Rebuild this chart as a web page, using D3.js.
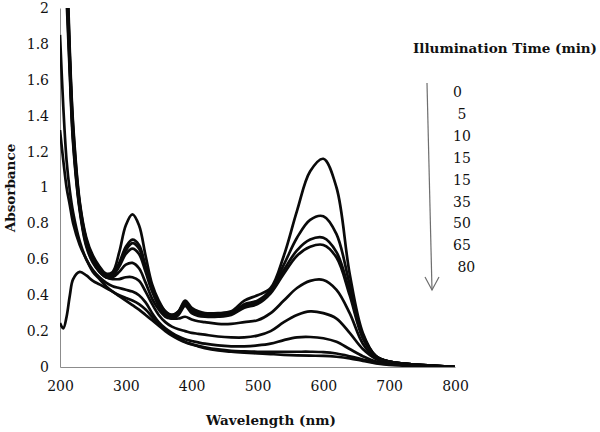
<!DOCTYPE html>
<html>
<head>
<meta charset="utf-8">
<script src="https://cdn.jsdelivr.net/npm/d3@7"></script>
<style>
  body { margin: 0; background: #fff; }
  text { font-family: "DejaVu Serif", serif; fill: #111; }
</style>
</head>
<body>
<svg id="chart" width="600" height="432"></svg>
<script>
// wavelengths (nm) shared by all spectra
const wavelength = [200,205,210,215,220,230,240,250,260,270,280,290,300,310,320,330,340,350,360,370,380,390,400,410,420,440,460,480,500,520,540,560,580,600,620,640,660,680,700,720,750,800]

// illumination times, as printed in the legend
const timeLabels = ["0", " 5", "10", "15", "15", "35", "50", "65", " 80"]

// absorbance for each spectrum
const abs0  = [4.0,3.0,2.3,1.75,1.35,0.92,0.72,0.62,0.56,0.52,0.53,0.64,0.79,0.85,0.79,0.62,0.46,0.37,0.31,0.29,0.31,0.37,0.33,0.31,0.30,0.30,0.31,0.37,0.40,0.44,0.62,0.87,1.09,1.16,1.00,0.52,0.19,0.06,0.03,0.02,0.01,0.0]
const abs5  = [3.8,2.9,2.25,1.72,1.33,0.91,0.71,0.61,0.55,0.51,0.52,0.58,0.67,0.71,0.68,0.56,0.44,0.36,0.31,0.29,0.31,0.36,0.32,0.30,0.29,0.29,0.30,0.35,0.37,0.43,0.57,0.72,0.82,0.84,0.74,0.46,0.18,0.06,0.03,0.02,0.01,0.0]
const abs10 = [3.6,2.8,2.2,1.7,1.3,0.9,0.7,0.6,0.55,0.51,0.52,0.57,0.65,0.69,0.66,0.55,0.43,0.35,0.30,0.28,0.30,0.35,0.31,0.29,0.285,0.285,0.295,0.34,0.36,0.42,0.54,0.65,0.71,0.72,0.64,0.42,0.17,0.06,0.03,0.02,0.01,0.0]
const abs15 = [3.4,2.7,2.15,1.68,1.28,0.89,0.69,0.6,0.54,0.5,0.51,0.56,0.63,0.66,0.63,0.53,0.42,0.34,0.29,0.27,0.29,0.34,0.30,0.285,0.28,0.28,0.29,0.33,0.35,0.41,0.52,0.62,0.67,0.68,0.61,0.40,0.16,0.06,0.03,0.02,0.01,0.0]
const abs15b = [3.2,2.6,2.1,1.65,1.26,0.88,0.68,0.59,0.53,0.5,0.5,0.53,0.57,0.58,0.55,0.47,0.38,0.32,0.28,0.27,0.27,0.28,0.265,0.255,0.25,0.24,0.24,0.25,0.26,0.30,0.37,0.44,0.48,0.485,0.43,0.30,0.13,0.05,0.03,0.02,0.01,0.0]
const abs35 = [3.0,2.5,2.05,1.62,1.24,0.87,0.67,0.58,0.53,0.5,0.49,0.49,0.5,0.50,0.48,0.42,0.35,0.29,0.25,0.225,0.21,0.20,0.19,0.185,0.18,0.17,0.165,0.165,0.175,0.20,0.25,0.29,0.31,0.30,0.27,0.19,0.10,0.045,0.025,0.015,0.01,0.0]
const abs50 = [1.85,1.45,1.15,0.98,0.86,0.70,0.60,0.54,0.50,0.47,0.45,0.44,0.43,0.42,0.40,0.36,0.30,0.25,0.215,0.19,0.17,0.155,0.145,0.137,0.13,0.12,0.115,0.115,0.12,0.13,0.15,0.165,0.167,0.16,0.14,0.10,0.06,0.03,0.02,0.012,0.008,0.0]
const abs65 = [1.32,1.15,1.0,0.9,0.8,0.68,0.6,0.53,0.49,0.45,0.42,0.40,0.385,0.37,0.35,0.32,0.28,0.24,0.21,0.18,0.16,0.14,0.128,0.118,0.11,0.098,0.09,0.087,0.085,0.085,0.085,0.085,0.085,0.083,0.075,0.06,0.042,0.024,0.014,0.01,0.005,0.0]
const abs80 = [0.245,0.215,0.28,0.40,0.49,0.53,0.51,0.48,0.46,0.44,0.42,0.395,0.37,0.345,0.32,0.29,0.26,0.23,0.2,0.175,0.155,0.138,0.125,0.115,0.105,0.092,0.085,0.08,0.076,0.072,0.068,0.065,0.063,0.062,0.057,0.048,0.034,0.02,0.012,0.008,0.004,0.0]

const spectra = [abs0, abs5, abs10, abs15, abs15b, abs35, abs50, abs65, abs80]

const xTicks = [200, 300, 400, 500, 600, 700, 800]
const yTicks = [0, 0.2, 0.4, 0.6, 0.8, 1, 1.2, 1.4, 1.6, 1.8, 2]

let svg = d3.select("#chart")

let x = d3.scaleLinear().domain([200, 800]).range([60, 455])
let y = d3.scaleLinear().domain([0, 2]).range([367, 8])

svg.append("clipPath").attr("id", "plot")
   .append("rect")
   .attr("x", x(200)).attr("y", y(2))
   .attr("width", x(800) - x(200)).attr("height", y(0) - y(2))

// axes, Excel style: grey line, no tick marks
svg.append("g")
   .attr("transform", `translate(0,${y(0)})`)
   .call(d3.axisBottom(x).tickValues(xTicks).tickSize(0).tickPadding(14))
svg.append("g")
   .attr("transform", `translate(${x(200)},0)`)
   .call(d3.axisLeft(y).tickValues(yTicks).tickSize(0).tickPadding(11).tickFormat(d3.format("~g")))

svg.selectAll(".domain").attr("stroke", "#8c8c8c").attr("stroke-width", 1)
svg.selectAll(".tick text")
   .style("font-family", "'DejaVu Serif', serif")
   .style("font-size", "14px")
   .attr("fill", "#111")

// spectra
let line = d3.line()
   .x((d, i) => x(wavelength[i]))
   .y(d => y(d))
   .curve(d3.curveCatmullRom.alpha(0.5))

svg.append("g").attr("clip-path", "url(#plot)")
   .selectAll("path")
   .data(spectra)
   .enter()
   .append("path")
   .attr("d", line)
   .attr("fill", "none")
   .attr("stroke", "#0a0a0a")
   .attr("stroke-width", 2.7)
   .attr("stroke-linejoin", "round")

// axis titles
svg.append("text")
   .attr("x", 271).attr("y", 425)
   .attr("text-anchor", "middle")
   .style("font-size", "13.5px").style("font-weight", "bold")
   .text("Wavelength (nm)")

svg.append("text")
   .attr("transform", "translate(15,188) rotate(-90)")
   .attr("text-anchor", "middle")
   .style("font-size", "13.5px").style("font-weight", "bold")
   .text("Absorbance")

// legend
svg.append("text")
   .attr("x", 413).attr("y", 53)
   .style("font-size", "13.5px").style("font-weight", "bold")
   .text("Illumination Time (min)")

svg.append("g").selectAll("text")
   .data(timeLabels)
   .enter()
   .append("text")
   .attr("x", 453)
   .attr("y", (d, i) => 97 + i * 21.9)
   .attr("xml:space", "preserve")
   .style("white-space", "pre")
   .style("font-size", "14px")
   .text(d => d)

let arrow = svg.append("g").attr("stroke", "#6e6e6e").attr("stroke-width", 1.2).attr("fill", "none")
arrow.append("line").attr("x1", 427).attr("y1", 83).attr("x2", 432).attr("y2", 290)
arrow.append("path").attr("d", "M425,277 L432,290 L439,277")
</script>
</body>
</html>
